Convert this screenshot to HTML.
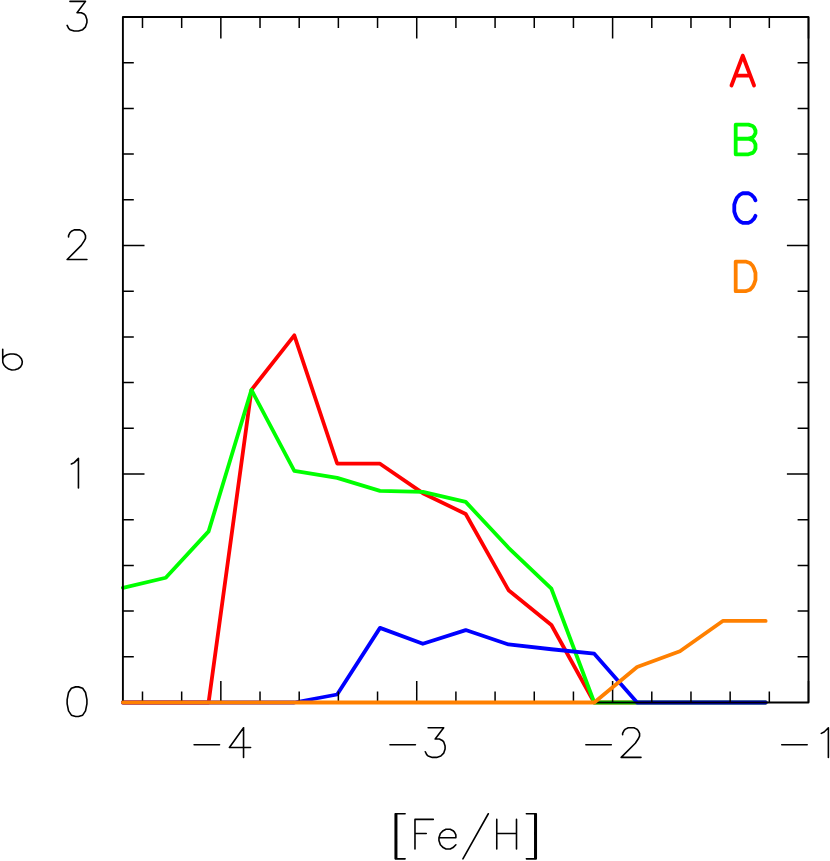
<!DOCTYPE html><html><head><meta charset="utf-8"><title>plot</title><style>html,body{margin:0;padding:0;background:#fff;font-family:"Liberation Sans",sans-serif}svg{display:block}</style></head><body>
<svg width="830" height="861" viewBox="0 0 830 861">
<rect width="830" height="861" fill="#fff"/>
<polyline points="122.90,702.50 165.75,702.50 208.60,702.50 251.45,389.91 294.30,335.30 337.15,463.49 380.00,463.72 422.85,493.19 465.70,513.99 508.55,590.19 551.40,625.04 594.25,702.50 637.10,702.50 679.95,702.50 722.80,702.50 765.65,702.50" fill="none" stroke="#ff0000" stroke-width="3.80" stroke-linejoin="round" stroke-linecap="round"/>
<polyline points="122.90,587.79 165.75,577.74 208.60,531.35 251.45,389.91 294.30,470.80 337.15,477.88 380.00,490.91 422.85,491.82 465.70,501.88 508.55,547.81 551.40,588.71 594.25,702.50 637.10,702.50 679.95,702.50 722.80,702.50 765.65,702.50" fill="none" stroke="#00ff00" stroke-width="3.80" stroke-linejoin="round" stroke-linecap="round"/>
<polyline points="122.90,702.50 165.75,702.50 208.60,702.50 251.45,702.50 294.30,702.50 337.15,694.50 380.00,627.87 422.85,643.78 465.70,630.07 508.55,644.46 551.40,649.26 594.25,653.72 637.10,702.50 679.95,702.50 722.80,702.50 765.65,702.50" fill="none" stroke="#0000ff" stroke-width="3.80" stroke-linejoin="round" stroke-linecap="round"/>
<rect x="122.90" y="17.00" width="685.60" height="685.50" fill="none" stroke="#000" stroke-width="1.90" stroke-linejoin="round"/>
<path d="M142.49 702.50 V691.60 M142.49 17.00 V27.90 M181.67 702.50 V691.60 M181.67 17.00 V27.90 M220.84 702.50 V680.90 M220.84 17.00 V38.60 M260.02 702.50 V691.60 M260.02 17.00 V27.90 M299.20 702.50 V691.60 M299.20 17.00 V27.90 M338.37 702.50 V691.60 M338.37 17.00 V27.90 M377.55 702.50 V691.60 M377.55 17.00 V27.90 M416.73 702.50 V680.90 M416.73 17.00 V38.60 M455.91 702.50 V691.60 M455.91 17.00 V27.90 M495.08 702.50 V691.60 M495.08 17.00 V27.90 M534.26 702.50 V691.60 M534.26 17.00 V27.90 M573.44 702.50 V691.60 M573.44 17.00 V27.90 M612.61 702.50 V680.90 M612.61 17.00 V38.60 M651.79 702.50 V691.60 M651.79 17.00 V27.90 M690.97 702.50 V691.60 M690.97 17.00 V27.90 M730.15 702.50 V691.60 M730.15 17.00 V27.90 M769.32 702.50 V691.60 M769.32 17.00 V27.90 M808.50 702.50 V680.90 M808.50 17.00 V38.60 M122.90 656.80 H133.80 M808.50 656.80 H797.60 M122.90 611.10 H133.80 M808.50 611.10 H797.60 M122.90 565.40 H133.80 M808.50 565.40 H797.60 M122.90 519.70 H133.80 M808.50 519.70 H797.60 M122.90 474.00 H144.50 M808.50 474.00 H786.90 M122.90 428.30 H133.80 M808.50 428.30 H797.60 M122.90 382.60 H133.80 M808.50 382.60 H797.60 M122.90 336.90 H133.80 M808.50 336.90 H797.60 M122.90 291.20 H133.80 M808.50 291.20 H797.60 M122.90 245.50 H144.50 M808.50 245.50 H786.90 M122.90 199.80 H133.80 M808.50 199.80 H797.60 M122.90 154.10 H133.80 M808.50 154.10 H797.60 M122.90 108.40 H133.80 M808.50 108.40 H797.60 M122.90 62.70 H133.80 M808.50 62.70 H797.60" fill="none" stroke="#000" stroke-width="1.50"/>
<polyline points="122.90,702.50 165.75,702.50 208.60,702.50 251.45,702.50 294.30,702.50 337.15,702.50 380.00,702.50 422.85,702.50 465.70,702.50 508.55,702.50 551.40,702.50 594.25,702.50 637.10,667.08 679.95,651.32 722.80,620.93 765.65,620.93" fill="none" stroke="#ff8000" stroke-width="3.80" stroke-linejoin="round" stroke-linecap="round"/>
<path d="M194.10 744.68 L219.53 744.68 M243.55 727.73 L229.42 747.51 L250.62 747.51 M243.55 727.73 L243.55 757.40 M389.98 744.68 L415.42 744.68 M428.13 727.73 L443.68 727.73 L435.20 739.03 L439.44 739.03 L442.26 740.44 L443.68 741.86 L445.09 746.10 L445.09 748.92 L443.68 753.16 L440.85 755.99 L436.61 757.40 L432.37 757.40 L428.13 755.99 L426.72 754.57 L425.31 751.75 M585.87 744.68 L611.30 744.68 M622.61 734.79 L622.61 733.38 L624.02 730.55 L625.43 729.14 L628.26 727.73 L633.91 727.73 L636.74 729.14 L638.15 730.55 L639.56 733.38 L639.56 736.20 L638.15 739.03 L635.32 743.27 L621.19 757.40 L640.97 757.40 M781.75 744.68 L807.19 744.68 M821.32 733.38 L824.14 731.97 L828.38 727.73 L828.38 757.40 M75.62 686.88 L71.38 688.29 L68.55 692.53 L67.14 699.59 L67.14 703.83 L68.55 710.90 L71.38 715.14 L75.62 716.55 L78.44 716.55 L82.68 715.14 L85.51 710.90 L86.92 703.83 L86.92 699.59 L85.51 692.53 L82.68 688.29 L78.44 686.88 L75.62 686.88 M71.38 464.03 L74.20 462.62 L78.44 458.38 L78.44 488.05 M68.55 236.94 L68.55 235.53 L69.97 232.70 L71.38 231.29 L74.20 229.88 L79.86 229.88 L82.68 231.29 L84.09 232.70 L85.51 235.53 L85.51 238.36 L84.09 241.18 L81.27 245.42 L67.14 259.55 L86.92 259.55 M69.97 1.38 L85.51 1.38 L77.03 12.68 L81.27 12.68 L84.09 14.09 L85.51 15.51 L86.92 19.75 L86.92 22.57 L85.51 26.81 L82.68 29.64 L78.44 31.05 L74.20 31.05 L69.97 29.64 L68.55 28.22 L67.14 25.40 M395.24 813.75 L395.24 858.87 M396.65 813.75 L396.65 858.87 M395.24 813.75 L405.11 813.75 M395.24 858.87 L405.11 858.87 M414.98 819.39 L414.98 849.00 M414.98 819.39 L433.31 819.39 M414.98 833.49 L426.26 833.49 M438.95 837.72 L455.87 837.72 L455.87 834.90 L454.46 832.08 L453.05 830.67 L450.23 829.26 L446.00 829.26 L443.18 830.67 L440.36 833.49 L438.95 837.72 L438.95 840.54 L440.36 844.77 L443.18 847.59 L446.00 849.00 L450.23 849.00 L453.05 847.59 L455.87 844.77 M488.30 813.75 L462.92 858.87 M496.76 819.39 L496.76 849.00 M516.50 819.39 L516.50 849.00 M496.76 833.49 L516.50 833.49 M534.83 813.75 L534.83 858.87 M536.24 813.75 L536.24 858.87 M526.37 813.75 L536.24 813.75 M526.37 858.87 L536.24 858.87 M2.72 349.20 L2.72 358.80 L2.80 362.30 L3.83 364.75 L5.92 367.20 L8.70 369.10 L11.84 369.97 L14.98 369.80 L18.10 368.75 L20.55 366.84 L21.94 364.40 L22.30 361.60 L21.40 358.80 L19.50 356.40 L16.70 354.65 L13.60 353.95 L10.10 353.95 L6.97 354.80 L4.50 356.20 L3.10 358.10 L2.72 359.70" fill="none" stroke="#000" stroke-width="1.60" stroke-linecap="round" stroke-linejoin="round"/>
<path d="M742.77 55.78 L731.46 85.45 M742.77 55.78 L754.07 85.45 M735.70 75.56 L749.83 75.56" fill="none" stroke="#ff0000" stroke-width="3.8" stroke-linecap="round" stroke-linejoin="round"/>
<path d="M735.70 124.63 L735.70 154.30 M735.70 124.63 L748.42 124.63 L752.66 126.04 L754.07 127.45 L755.48 130.28 L755.48 133.11 L754.07 135.93 L752.66 137.34 L748.42 138.76 M735.70 138.76 L748.42 138.76 L752.66 140.17 L754.07 141.58 L755.48 144.41 L755.48 148.65 L754.07 151.47 L752.66 152.89 L748.42 154.30 L735.70 154.30" fill="none" stroke="#00ff00" stroke-width="3.8" stroke-linecap="round" stroke-linejoin="round"/>
<path d="M755.48 200.29 L754.07 197.47 L751.25 194.64 L748.42 193.23 L742.77 193.23 L739.94 194.64 L737.12 197.47 L735.70 200.29 L734.29 204.53 L734.29 211.60 L735.70 215.84 L737.12 218.66 L739.94 221.49 L742.77 222.90 L748.42 222.90 L751.25 221.49 L754.07 218.66 L755.48 215.84" fill="none" stroke="#0000ff" stroke-width="3.8" stroke-linecap="round" stroke-linejoin="round"/>
<path d="M735.70 261.53 L735.70 291.20 M735.70 261.53 L745.59 261.53 L749.83 262.94 L752.66 265.77 L754.07 268.59 L755.48 272.83 L755.48 279.90 L754.07 284.13 L752.66 286.96 L749.83 289.79 L745.59 291.20 L735.70 291.20" fill="none" stroke="#ff8000" stroke-width="3.8" stroke-linecap="round" stroke-linejoin="round"/>
</svg></body></html>
